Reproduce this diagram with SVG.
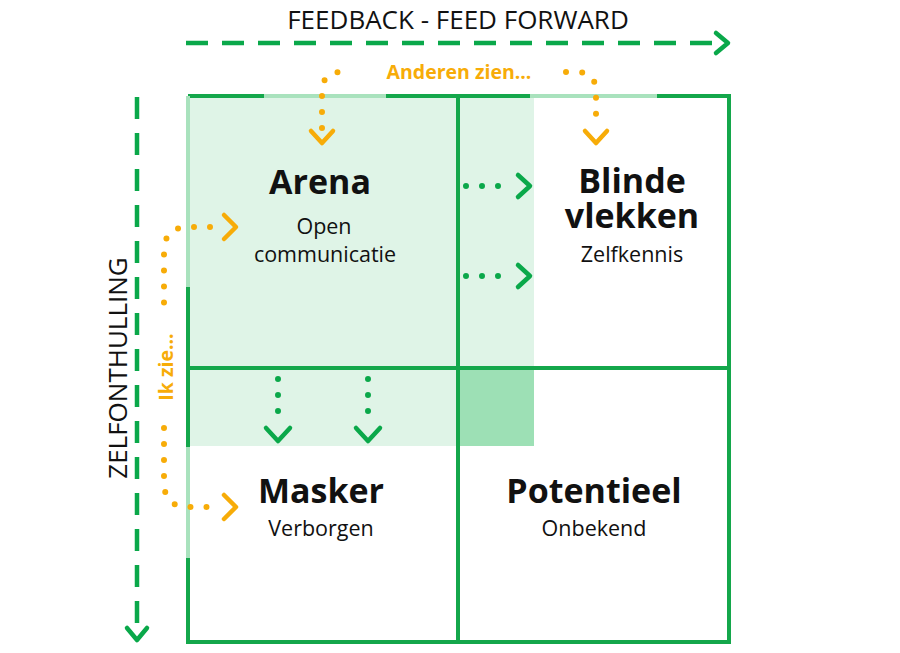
<svg xmlns="http://www.w3.org/2000/svg" width="900" height="653" viewBox="0 0 900 653">
<style>
.t{font-family:"Open Sans","Noto Sans",sans-serif;fill:#111;text-anchor:middle}
.h{font-size:34px;font-weight:700}
.s{font-size:21.5px}
.ax{font-size:26px}
.dg{fill:none;stroke:#0aa84a;stroke-width:6;stroke-linecap:round;stroke-dasharray:0 16}
.do{fill:none;stroke:#f7ac08;stroke-width:6;stroke-linecap:round;stroke-dasharray:0 16}
.cg{fill:none;stroke:#0aa84a;stroke-width:4.5;stroke-linecap:round;stroke-linejoin:round}
.co{fill:none;stroke:#f7ac08;stroke-width:4.5;stroke-linecap:round;stroke-linejoin:round}
.b{stroke:#14a74b;stroke-width:4}
.bl{stroke:#a9e2bd;stroke-width:4}
.ol{font-family:"Open Sans","Noto Sans",sans-serif;font-weight:700;font-size:19.5px;fill:#f7ac08;text-anchor:middle}
</style>
<rect width="900" height="653" fill="#fff"/>
<g id="grid">
<rect x="188" y="96" width="346" height="350" fill="#dff4e7"/>
<rect x="460" y="370" width="74" height="76" fill="#9de0b5"/>
<line class="bl" x1="188" y1="96" x2="729" y2="96"/>
<line class="b" x1="188" y1="96" x2="264" y2="96"/>
<line class="b" x1="386" y1="96" x2="530" y2="96"/>
<line class="b" x1="657" y1="96" x2="729" y2="96"/>
<line class="bl" x1="188" y1="96" x2="188" y2="642"/>
<line class="b" x1="188" y1="287" x2="188" y2="447"/>
<line class="b" x1="188" y1="558" x2="188" y2="642"/>
<line class="b" x1="729" y1="94" x2="729" y2="642"/>
<line class="b" x1="186" y1="642" x2="731" y2="642"/>
<line class="b" x1="458" y1="96" x2="458" y2="642"/>
<line class="b" x1="188" y1="368" x2="729" y2="368"/>
</g>
<g id="arena"><text class="t h" x="320" y="194">Arena</text><text class="t s" x="324" y="234">Open</text><text class="t s" x="325" y="262">communicatie</text></g>
<g id="blinde"><text class="t h" x="632" y="193">Blinde</text><text class="t h" x="632" y="228">vlekken</text><text class="t s" x="632" y="262">Zelfkennis</text></g>
<g id="masker"><text class="t h" x="321" y="503">Masker</text><text class="t s" x="321" y="536">Verborgen</text></g>
<g id="potentieel"><text class="t h" x="594" y="503">Potentieel</text><text class="t s" x="594" y="536">Onbekend</text></g>
<g id="axes">
<text class="t ax" x="458" y="29">FEEDBACK - FEED FORWARD</text>
<text class="t ax" transform="translate(127,368) rotate(-90)">ZELFONTHULLING</text>
<line x1="186" y1="43" x2="722" y2="43" stroke="#0aa84a" stroke-width="4.5" stroke-dasharray="22 14"/>
<polyline class="cg" points="716,33 728,43 716,53"/>
<line x1="137" y1="97" x2="137" y2="634" stroke="#0aa84a" stroke-width="4.5" stroke-dasharray="22 14"/>
<polyline class="cg" points="127,628 137,640 147,628"/>
</g>
<g id="connectors">
<path class="dg" d="M466,186 H512"/><polyline class="cg" points="518,175 530,186 518,197"/>
<path class="dg" d="M466,276 H512"/><polyline class="cg" points="518,265 530,276 518,287"/>
<path class="dg" d="M278,379 V427"/><polyline class="cg" points="266,428 278,441 290,428"/>
<path class="dg" d="M368,379 V427"/><polyline class="cg" points="356,428 368,441 380,428"/>
<path class="do" d="M322,128 V92 Q322,72 342,72 H352"/>
<path class="do" d="M566,72 H576 Q596,72 596,92 V128"/>
<polyline class="co" points="311,131 322,143 333,131"/>
<polyline class="co" points="585,131 596,143 607,131"/>
<text class="ol" x="459" y="79">Anderen zien...</text>
<path class="do" d="M210,227 H188 Q164,227 164,252 V306"/>
<path class="do" d="M164,428 V482 Q164,507 188,507 H210"/>
<polyline class="co" points="224,215 236,227 224,239"/>
<polyline class="co" points="224,495 236,507 224,519"/>
<text class="ol" transform="translate(173,367) rotate(-90)">Ik zie...</text>
</g>
</svg>
